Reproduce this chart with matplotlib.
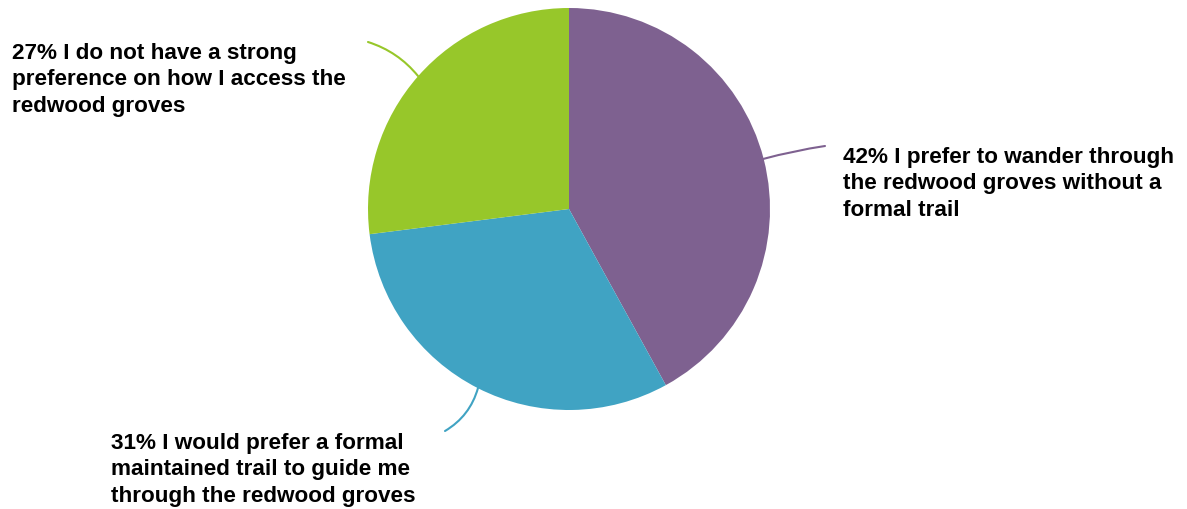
import matplotlib.pyplot as plt
import matplotlib as mpl

# data
labels = ["42% I prefer to wander through\nthe redwood groves without a\nformal trail",
          "31% I would prefer a formal\nmaintained trail to guide me\nthrough the redwood groves",
          "27% I do not have a strong\npreference on how I access the\nredwood groves"]
values = [42, 31, 27]
colors = ['#7E6190', '#40A3C3', '#97C72A']

W, H = 1187, 510
mpl.rcParams['font.family'] = ['Liberation Sans', 'DejaVu Sans']

fig = plt.figure(figsize=(W / 100, H / 100), dpi=100)
ax = fig.add_axes([0, 0, 1, 1])

# pie centred at pixel (569, 210), radius 201
cx, cy, r = 569, H - 210, 201
wedges, _ = ax.pie(values, colors=colors, startangle=90, counterclock=False,
                   center=(cx, cy), radius=r, frame=True)
ax.set_xlim(0, W)
ax.set_ylim(0, H)
ax.set_aspect('equal')
ax.axis('off')

# leader lines: (edge point, end point, curvature) in pixel coords
leaders = [((763, 160), (825, 147), 0.03),
           ((478, 389), (445, 432), 0.2),
           ((418, 77), (368, 43), -0.15)]
# last-line baseline positions
text_pos = [(843, 216), (111, 502), (12, 112)]

for (p0, p1, rad), col, lab, (tx, ty) in zip(leaders, colors, labels, text_pos):
    ax.annotate('', xy=(p0[0], H - p0[1]), xytext=(p1[0], H - p1[1]),
                arrowprops=dict(arrowstyle='-', color=col, lw=1.5,
                                shrinkA=0, shrinkB=0,
                                connectionstyle='arc3,rad=%s' % rad))
    ax.text(tx, H - ty, lab, ha='left', va='baseline', fontsize=16.2,
            fontweight='bold', color='black', linespacing=1.35)

fig.savefig('out.png', dpi=100)
